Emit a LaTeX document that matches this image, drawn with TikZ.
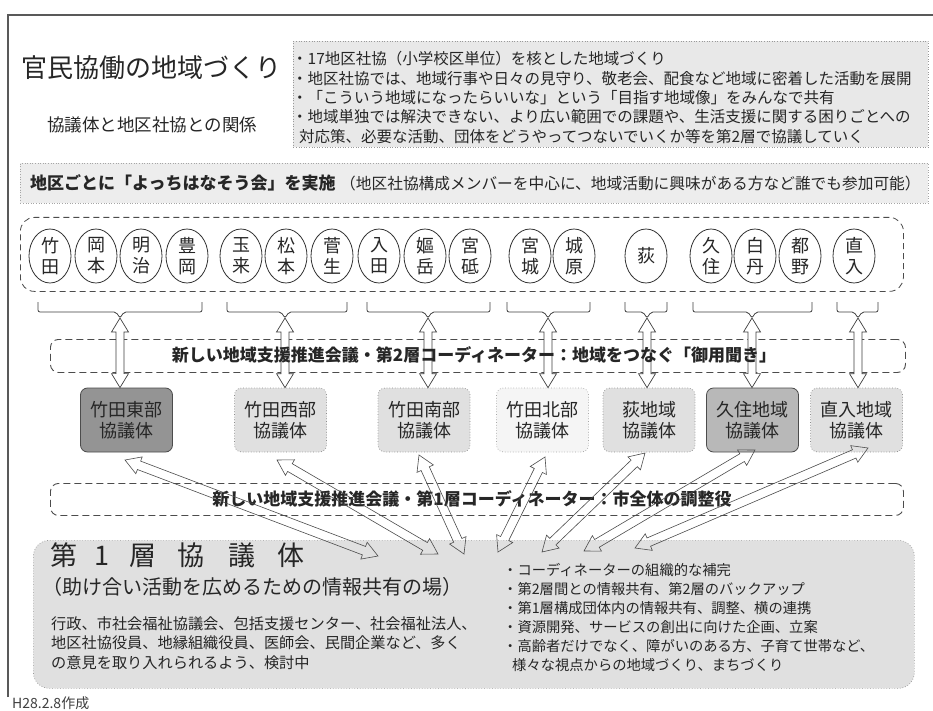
\documentclass[tikz,border=0pt]{standalone}
\usepackage{fontspec}
\setmainfont{Noto Sans CJK JP}
\usetikzlibrary{calc,shapes.geometric}
\newcommand\fsz[2]{\fontsize{#1pt}{#2pt}\selectfont}
% hollow double-headed arrow: style, A, B, head length, head half-width, shaft half-width
\newcommand\hollowarrow[6]{%
  \coordinate (hA) at ($(#2)!#4!(#3)$);
  \coordinate (hB) at ($(#3)!#4!(#2)$);
  \draw[#1] (#2) -- ($(hA)!#5!90:(#3)$) -- ($(hA)!#6!90:(#3)$) -- ($(hB)!#6!90:(#3)$) -- ($(hB)!#5!90:(#3)$) -- (#3)
    -- ($(hB)!#5!-90:(#3)$) -- ($(hB)!#6!-90:(#3)$) -- ($(hA)!#6!-90:(#3)$) -- ($(hA)!#5!-90:(#3)$) -- cycle;}
\begin{document}
\begin{tikzpicture}[x=1pt,y=-1pt,
  every node/.style={inner sep=0pt, text=black!85},
  frameline/.style={draw=black!65, line width=1.2pt},
  infobox/.style={draw=black!40, dotted, fill=black!9, line width=0.6pt},
  band/.style={draw=black!70, dash pattern=on 7pt off 4pt, line width=0.9pt, rounded corners=8pt},
  circ/.style={ellipse, draw=black!80, line width=0.8pt, minimum width=42pt, minimum height=54pt, align=center, font=\fsz{18}{21}},
  kbox/.style={rounded corners=7pt, minimum width=92pt, minimum height=64pt, align=center, font=\fsz{18}{21}},
  kdark/.style={kbox, fill=black!42, draw=black!70, line width=0.8pt},
  kmid/.style={kbox, fill=black!28, draw=black!70, line width=0.8pt},
  klight/.style={kbox, fill=black!12, draw=black!45, dotted, line width=0.7pt},
  kpale/.style={kbox, fill=black!4, draw=black!35, dotted, line width=0.7pt},
  brk/.style={draw=black!75, line width=0.8pt, rounded corners=2pt},
  harrow/.style={draw=black!75, line width=0.7pt, fill=white, line join=miter},
  carrow/.style={draw=black!70, line width=0.6pt, line join=miter}]
\useasboundingbox (0,0) rectangle (933,711);
\fill[white] (0,0) rectangle (933,711);
% frame
\coordinate (f0) at (8,15);
\coordinate (f1) at (933,15);
\coordinate (f2) at (8,697);
\draw[frameline] (f2) -- (f0) -- (f1);
% title area
\node[anchor=west, font=\fsz{26}{30}] (title) at (21,68) {官民協働の地域づくり};
\node[anchor=west, font=\fsz{17.5}{21}] (subtitle) at (47,125) {協議体と地区社協との関係};
\node[infobox, minimum width=635pt, minimum height=106pt, anchor=north west] (info) at (293,41) {};
\node[anchor=west, align=left, font=\fsz{15.5}{19.3}] (infotext) at (292,97.5) {・17地区社協（小学校区単位）を核とした地域づくり\\
・地区社協では、地域行事や日々の見守り、敬老会、配食など地域に密着した活動を展開\\
・「こういう地域になったらいいな」という「目指す地域像」をみんなで共有\\
・地域単独では解決できない、より広い範囲での課題や、生活支援に関する困りごとへの\\
\hspace*{7pt}対応策、必要な活動、団体をどうやってつないでいくか等を第2層で協議していく};
% banner
\node[draw=black!35, dotted, fill=black!7, line width=0.6pt, minimum width=908pt, minimum height=40pt, anchor=north west] (banner) at (20,163) {};
\node[anchor=west, font=\bfseries\fsz{17}{20}] (bantitle) at (30,183) {地区ごとに「よっちはなそう会」を実施};
\node[anchor=west, font=\fsz{15.7}{19}] (bannote) at (340,184) {（地区社協構成メンバーを中心に、地域活動に興味がある方など誰でも参加可能）};
% circles row
\node[draw=black!70, dash pattern=on 6pt off 4pt, line width=0.8pt, rounded corners=14pt, minimum width=883pt, minimum height=74pt, anchor=north west] (row) at (20,217) {};
\node[circ] (c1) at (50,256) {竹\\田};
\node[circ] (c2) at (96,256) {岡\\本};
\node[circ] (c3) at (141,256) {明\\治};
\node[circ] (c4) at (187,256) {豊\\岡};
\node[circ] (c5) at (241,256) {玉\\来};
\node[circ] (c6) at (286,256) {松\\本};
\node[circ] (c7) at (332,256) {菅\\生};
\node[circ] (c8) at (379,256) {入\\田};
\node[circ] (c9) at (425,256) {嫗\\岳};
\node[circ] (c10) at (470,256) {宮\\砥};
\node[circ] (c11) at (530,256) {宮\\城};
\node[circ] (c12) at (574,256) {城\\原};
\node[circ] (c13) at (646,256) {荻};
\node[circ] (c14) at (711,256) {久\\住};
\node[circ] (c15) at (755,256) {白\\丹};
\node[circ] (c16) at (800,256) {都\\野};
\node[circ] (c17) at (854,256) {直\\入};
% brackets
\draw[brk] (38,302) -- (38,312) -- (116,312) -- (120,318) -- (124,312) -- (202,312) -- (202,302);
\draw[brk] (227,302) -- (227,312) -- (281,312) -- (285,318) -- (289,312) -- (347,312) -- (347,302);
\draw[brk] (367,302) -- (367,312) -- (424,312) -- (428,318) -- (432,312) -- (490,312) -- (490,302);
\draw[brk] (507,302) -- (507,312) -- (544,312) -- (548,318) -- (552,312) -- (590,312) -- (590,302);
\draw[brk] (625,302) -- (625,312) -- (643,312) -- (647,318) -- (651,312) -- (667,312) -- (667,302);
\draw[brk] (693,302) -- (693,312) -- (748,312) -- (752,318) -- (756,312) -- (812,312) -- (812,302);
\draw[brk] (837,302) -- (837,312) -- (854,312) -- (858,318) -- (862,312) -- (878,312) -- (878,302);
\coordinate (b1) at (120,318);
\coordinate (b2) at (285,318);
\coordinate (b3) at (428,318);
\coordinate (b4) at (548,318);
\coordinate (b5) at (647,318);
\coordinate (b6) at (752,318);
\coordinate (b7) at (858,318);
% second-layer band
\node[band, minimum width=855pt, minimum height=33pt, anchor=north west] (band2) at (50,339) {};
% district boxes
\node[kdark]  (k1) at (126.5,420) {竹田東部\\協議体};
\node[klight] (k2) at (280.5,420) {竹田西部\\協議体};
\node[klight] (k3) at (424,420) {竹田南部\\協議体};
\node[kpale]  (k4) at (542.5,420) {竹田北部\\協議体};
\node[klight] (k5) at (649,420) {荻地域\\協議体};
\node[kmid]   (k6) at (752.5,420) {久住地域\\協議体};
\node[klight] (k7) at (856.5,420) {直入地域\\協議体};
\coordinate (v1) at (k1.north -| b1);
\coordinate (v2) at (k2.north -| b2);
\coordinate (v3) at (k3.north -| b3);
\coordinate (v4) at (k4.north -| b4);
\coordinate (v5) at (k5.north -| b5);
\coordinate (v6) at (k6.north -| b6);
\coordinate (v7) at (k7.north -| b7);
\hollowarrow{harrow}{b1}{v1}{14pt}{8.5pt}{4pt}
\hollowarrow{harrow}{b2}{v2}{14pt}{8.5pt}{4pt}
\hollowarrow{harrow}{b3}{v3}{14pt}{8.5pt}{4pt}
\hollowarrow{harrow}{b4}{v4}{14pt}{8.5pt}{4pt}
\hollowarrow{harrow}{b5}{v5}{14pt}{8.5pt}{4pt}
\hollowarrow{harrow}{b6}{v6}{14pt}{8.5pt}{4pt}
\hollowarrow{harrow}{b7}{v7}{14pt}{8.5pt}{4pt}
\node[font=\bfseries\fsz{17}{20}] (band2text) at (474,355) {新しい地域支援推進会議・第2層コーディネーター：地域をつなぐ「御用聞き」};
% first-layer band
\node[band, minimum width=853pt, minimum height=32pt, anchor=north west] (band1) at (50,483) {};
\node[font=\bfseries\fsz{17}{20}] (band1text) at (472,499) {新しい地域支援推進会議・第1層コーディネーター：市全体の調整役};
% first-layer council box
\node[draw=black!40, dotted, fill=black!12, line width=0.7pt, rounded corners=16pt, minimum width=881pt, minimum height=148pt, anchor=north west] (l1) at (33,540) {};
\node[anchor=west, font=\fsz{27}{30}] (l1title) at (45,555) {\makebox[38.5pt]{第}\makebox[37pt]{1}\makebox[44pt]{層}\makebox[52pt]{協}\makebox[50.5pt]{議}\makebox[48pt]{体}};
\node[anchor=west, font=\fsz{20}{24}] (l1sub) at (42,587) {（助け合い活動を広めるための情報共有の場）};
\node[anchor=west, align=left, font=\fsz{15.2}{19.5}] (l1left) at (51,643) {行政、市社会福祉協議会、包括支援センター、社会福祉法人、\\地区社協役員、地縁組織役員、医師会、民間企業など、多く\\の意見を取り入れられるよう、検討中};
\node[anchor=west, align=left, font=\fsz{14.3}{19}] (l1right) at (503,617.5) {・コーディネーターの組織的な補完\\
・第2層間との情報共有、第2層のバックアップ\\
・第1層構成団体内の情報共有、調整、横の連携\\
・資源開発、サービスの創出に向けた企画、立案\\
・高齢者だけでなく、障がいのある方、子育て世帯など、\\
\hspace*{9pt}様々な視点からの地域づくり、まちづくり};
% crossing arrows
\coordinate (u1) at (125,460);
\coordinate (u2) at (277,460);
\coordinate (u3) at (419,455);
\coordinate (u4) at (545,457);
\coordinate (u5) at (645,453);
\coordinate (u6) at (755,450);
\coordinate (u7) at (868,448);
\coordinate (d1) at (378,556);
\coordinate (d2) at (438,554);
\coordinate (d3) at (464,554);
\coordinate (d4) at (498,552);
\coordinate (d5) at (542,552);
\coordinate (d6) at (584,551);
\coordinate (d7) at (635,548);
\hollowarrow{carrow}{u1}{d1}{15pt}{9pt}{4.5pt}
\hollowarrow{carrow}{u2}{d2}{15pt}{9pt}{4.5pt}
\hollowarrow{carrow}{u3}{d3}{15pt}{9pt}{4.5pt}
\hollowarrow{carrow}{u4}{d4}{15pt}{9pt}{4.5pt}
\hollowarrow{carrow}{u5}{d5}{15pt}{9pt}{4.5pt}
\hollowarrow{carrow}{u6}{d6}{15pt}{9pt}{4.5pt}
\hollowarrow{carrow}{u7}{d7}{15pt}{9pt}{4.5pt}
% footer
\node[anchor=west, font=\fsz{14}{16}, text=black!75] (date) at (12,703) {H28.2.8作成};
\end{tikzpicture}
\end{document}
